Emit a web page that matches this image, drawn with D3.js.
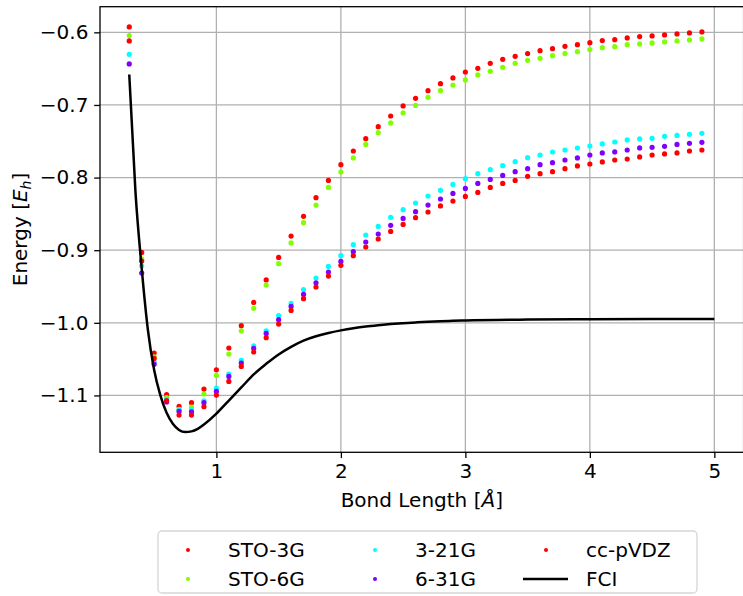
<!DOCTYPE html>
<html>
<head>
<meta charset="utf-8">
<script src="https://cdn.jsdelivr.net/npm/d3@7"></script>
<style>
  body { margin: 0; background: #fff; }
  svg { display: block; font-family: 'DejaVu Sans', sans-serif; }
</style>
</head>
<body>
<div id="chart"></div>
<script>
'use strict';

// Bond lengths (Å) of the scanned points
const bondLengths = [0.3, 0.4, 0.5, 0.6, 0.7, 0.8, 0.9, 1.0, 1.1, 1.2, 1.3, 1.4, 1.5, 1.6, 1.7, 1.8, 1.9, 2.0,
  2.1, 2.2, 2.3, 2.4, 2.5, 2.6, 2.7, 2.8, 2.9, 3.0, 3.1, 3.2, 3.3, 3.4, 3.5, 3.6, 3.7, 3.8, 3.9, 4.0,
  4.1, 4.2, 4.3, 4.4, 4.5, 4.6, 4.7, 4.8, 4.9];

const sto3g = [-0.5926, -0.903, -1.0416, -1.099, -1.115, -1.110, -1.0912, -1.0646, -1.0347, -1.004,
  -0.9719, -0.941, -0.910, -0.8805, -0.8534, -0.8277, -0.8039, -0.7822, -0.7634, -0.7464, -0.7299,
  -0.7152, -0.7014, -0.6909, -0.6803, -0.6707, -0.6628, -0.6546, -0.6496, -0.6427, -0.6372, -0.6331,
  -0.6293, -0.6252, -0.6225, -0.6193, -0.6170, -0.6142, -0.6114, -0.6101, -0.6077, -0.6059, -0.6050,
  -0.6036, -0.6022, -0.6008, -0.5995];

const sto6g = [-0.6045, -0.912, -1.047, -1.103, -1.119, -1.116, -1.098, -1.0725, -1.043, -1.011,
  -0.980, -0.948, -0.9186, -0.890, -0.8621, -0.8378, -0.8135, -0.7923, -0.773, -0.7543, -0.7382,
  -0.7248, -0.711, -0.7006, -0.6895, -0.6803, -0.6725, -0.6656, -0.6587, -0.6537, -0.6482, -0.6427,
  -0.6386, -0.6358, -0.6321, -0.6293, -0.6266, -0.6238, -0.6211, -0.6197, -0.6170, -0.6160, -0.6146,
  -0.6132, -0.6118, -0.6105, -0.6091];

const b321g = [-0.6303, -0.9215, -1.054, -1.105, -1.120, -1.119, -1.1073, -1.0898, -1.0705, -1.0518,
  -1.0316, -1.0109, -0.990, -0.9733, -0.9544, -0.9383, -0.9223, -0.9076, -0.8924, -0.8791, -0.8672,
  -0.8548, -0.8442, -0.835, -0.8254, -0.8176, -0.8094, -0.8015, -0.7946, -0.7891, -0.7836, -0.7781,
  -0.7726, -0.7689, -0.7648, -0.7620, -0.7593, -0.7565, -0.7537, -0.7510, -0.7482, -0.7468, -0.7460,
  -0.7432, -0.7419, -0.7405, -0.7391];

const b631g = [-0.6435, -0.9314, -1.057, -1.109, -1.122, -1.1225, -1.110, -1.0945, -1.0738, -1.0554,
  -1.0353, -1.0146, -0.9957, -0.9774, -0.9609, -0.9448, -0.930, -0.9154, -0.902, -0.8887, -0.8777,
  -0.8658, -0.8562, -0.847, -0.8378, -0.8295, -0.8218, -0.8149, -0.808, -0.8025, -0.797, -0.7919,
  -0.7877, -0.7822, -0.7795, -0.7758, -0.7730, -0.7689, -0.7661, -0.7647, -0.7620, -0.7592, -0.7584,
  -0.7570, -0.7543, -0.7529, -0.7515];

const ccpvdz = [-0.6118, -0.915, -1.049, -1.107, -1.127, -1.127, -1.1156, -1.0995, -1.0807, -1.060,
  -1.0402, -1.0205, -1.0017, -0.983, -0.9668, -0.9507, -0.9356, -0.9209, -0.9076, -0.8956, -0.8846,
  -0.8741, -0.8645, -0.8552, -0.8474, -0.8391, -0.8323, -0.8259, -0.8204, -0.8135, -0.808, -0.8039,
  -0.7983, -0.7946, -0.7919, -0.7877, -0.7840, -0.7813, -0.7785, -0.7758, -0.7744, -0.7716, -0.7689,
  -0.7675, -0.7661, -0.7634, -0.7620];

// FCI reference curve
const fciR = [0.30, 0.35, 0.40, 0.45, 0.50, 0.55, 0.60, 0.65, 0.70, 0.75, 0.80, 0.85, 0.90, 1.00,
  1.10, 1.20, 1.30, 1.40, 1.50, 1.60, 1.70, 1.80, 1.90, 2.00, 2.10, 2.20, 2.30, 2.40, 2.50, 2.60,
  2.70, 2.80, 2.90, 3.00, 3.50, 4.00, 4.50, 5.00];
const fciE = [-0.658, -0.820, -0.925, -1.010, -1.065, -1.100, -1.124, -1.139, -1.1475, -1.1504,
  -1.1495, -1.146, -1.140, -1.125, -1.107, -1.089, -1.071, -1.0565, -1.0435, -1.033, -1.0245,
  -1.0185, -1.0140, -1.0104, -1.0074, -1.0050, -1.0032, -1.0017, -1.0005, -0.9995, -0.9986, -0.9978,
  -0.9972, -0.9967, -0.9955, -0.9951, -0.9949, -0.9948];

const seriesNames = ['STO-3G', 'STO-6G', '3-21G', '6-31G', 'cc-pVDZ'];
const seriesValues = [sto3g, sto6g, b321g, b631g, ccpvdz];
const seriesColors = ['#ff0000', '#80ff00', '#00ffff', '#8000ff', '#ff0000'];

const xTicks = [1, 2, 3, 4, 5];
const yTicks = [-0.6, -0.7, -0.8, -0.9, -1.0, -1.1];

// Layout
const w = 743;
const h = 596;
const plotL = 100;
const plotR = 743.6;
const plotT = 6.7;
const plotB = 452.3;
const fontSize = 20;

const svg = d3.select('#chart')
  .append('svg')
  .attr('width', w)
  .attr('height', h);

const xScale = d3.scaleLinear()
  .domain([0.065, 5.235])
  .range([plotL, plotR]);

const yScale = d3.scaleLinear()
  .domain([-1.1783, -0.5647])
  .range([plotB, plotT]);

// Grid
svg.append('g')
  .selectAll('line')
  .data(xTicks)
  .join('line')
  .attr('x1', d => xScale(d)).attr('x2', d => xScale(d))
  .attr('y1', plotT).attr('y2', plotB)
  .attr('stroke', '#b0b0b0').attr('stroke-width', 1.3);

svg.append('g')
  .selectAll('line')
  .data(yTicks)
  .join('line')
  .attr('x1', plotL).attr('x2', plotR)
  .attr('y1', d => yScale(d)).attr('y2', d => yScale(d))
  .attr('stroke', '#b0b0b0').attr('stroke-width', 1.3);

// Axes
const fmtY = d => d3.format('.1f')(d).replace('-', '\u2212');

const xAxis = svg.append('g')
  .attr('transform', `translate(0, ${plotB})`)
  .call(d3.axisBottom(xScale).tickValues(xTicks).tickFormat(d3.format('d'))
    .tickSize(5.8).tickPadding(5.8));

const yAxis = svg.append('g')
  .attr('transform', `translate(${plotL}, 0)`)
  .call(d3.axisLeft(yScale).tickValues(yTicks).tickFormat(fmtY)
    .tickSize(5.8).tickPadding(5.8));

[xAxis, yAxis].forEach(g => {
  g.select('.domain').remove();
  g.selectAll('.tick line').attr('stroke', '#000').attr('stroke-width', 1.3);
  g.selectAll('.tick text')
    .attr('fill', '#000')
    .style('font-family', "'DejaVu Sans', sans-serif")
    .style('font-size', fontSize + 'px');
});

// Points
seriesValues.forEach((vals, s) => {
  svg.append('g')
    .selectAll('circle')
    .data(vals)
    .join('circle')
    .attr('cx', (d, i) => xScale(bondLengths[i]))
    .attr('cy', d => yScale(d))
    .attr('r', 2.6)
    .attr('fill', seriesColors[s]);
});

// FCI line
const fciLine = d3.line()
  .x(d => xScale(d[0]))
  .y(d => yScale(d[1]))
  .curve(d3.curveMonotoneX);

svg.append('path')
  .datum(fciR.map((r, i) => [r, fciE[i]]))
  .attr('d', fciLine)
  .attr('fill', 'none')
  .attr('stroke', '#000')
  .attr('stroke-width', 2.5);

// Frame
svg.append('rect')
  .attr('x', plotL).attr('y', plotT)
  .attr('width', plotR - plotL).attr('height', plotB - plotT)
  .attr('fill', 'none')
  .attr('stroke', '#000')
  .attr('stroke-width', 1.3);

// Axis labels
const xLabel = svg.append('text')
  .attr('x', (plotL + plotR) / 2)
  .attr('y', 507)
  .attr('text-anchor', 'middle')
  .style('font-size', fontSize + 'px');
xLabel.append('tspan').text('Bond Length [');
xLabel.append('tspan').style('font-style', 'italic').text('Å');
xLabel.append('tspan').text(']');

const yLabel = svg.append('text')
  .attr('transform', `translate(27, ${(plotT + plotB) / 2}) rotate(-90)`)
  .attr('text-anchor', 'middle')
  .style('font-size', fontSize + 'px');
yLabel.append('tspan').text('Energy [');
yLabel.append('tspan').style('font-style', 'italic').text('E');
yLabel.append('tspan').style('font-style', 'italic').style('font-size', '14px').attr('dy', 4).text('h');
yLabel.append('tspan').attr('dy', -4).text(']');

// Legend
const legend = svg.append('g');
legend.append('rect')
  .attr('x', 158).attr('y', 531)
  .attr('width', 539).attr('height', 62)
  .attr('rx', 4)
  .attr('fill', '#fff')
  .attr('stroke', '#d6d6d6')
  .attr('stroke-width', 1.3);

const legendItems = seriesNames.map((n, i) => ({ name: n, color: seriesColors[i], line: false }));
legendItems.push({ name: 'FCI', color: '#000', line: true });

const colX = [188, 375, 546];
const rowY = [550, 579];

legendItems.forEach((d, i) => {
  const col = Math.floor(i / 2);
  const row = i % 2;
  const g = legend.append('g')
    .attr('transform', `translate(${colX[col]}, ${rowY[row]})`);
  if (d.line) {
    g.append('line')
      .attr('x1', -23).attr('x2', 22)
      .attr('stroke', d.color).attr('stroke-width', 2.5);
  } else {
    g.append('circle').attr('r', 2).attr('fill', d.color);
  }
  g.append('text')
    .attr('x', 40)
    .attr('dy', '0.35em')
    .style('font-size', fontSize + 'px')
    .text(d.name);
});
</script>
</body>
</html>
